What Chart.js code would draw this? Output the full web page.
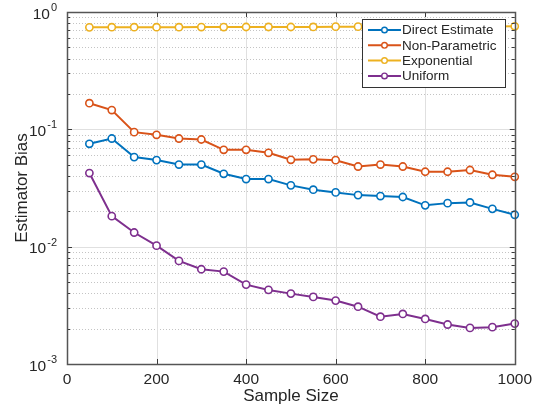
<!DOCTYPE html>
<html>
<head>
<meta charset="utf-8">
<script src="https://cdn.jsdelivr.net/npm/chart.js@4/dist/chart.umd.min.js"></script>
<style>
html, body { margin: 0; padding: 0; background: #fff; }
#wrap { width: 538px; height: 413px; }
</style>
</head>
<body>
<div id="wrap"><canvas id="chart"></canvas></div>
<script>
const sampleSizes = [50, 100, 150, 200, 250, 300, 350, 400, 450, 500, 550, 600, 650, 700, 750, 800, 850, 900, 950, 1000]
const directEstimate = [0.0753, 0.0835, 0.058, 0.0547, 0.0501, 0.0501, 0.0418, 0.0377, 0.0377, 0.0333, 0.0306, 0.029, 0.0275, 0.027, 0.0265, 0.0225, 0.0235, 0.0238, 0.021, 0.0187]
const nonParametric = [0.167, 0.146, 0.0946, 0.0898, 0.0835, 0.0819, 0.0669, 0.0669, 0.0631, 0.055, 0.0555, 0.0546, 0.0482, 0.0501, 0.0482, 0.0435, 0.0435, 0.045, 0.041, 0.0394]
const exponential = [0.74, 0.742, 0.742, 0.742, 0.742, 0.744, 0.744, 0.745, 0.745, 0.745, 0.746, 0.75, 0.75, 0.75, 0.751, 0.752, 0.752, 0.753, 0.754, 0.755]
const uniform = [0.0424, 0.0182, 0.0132, 0.0102, 0.00756, 0.00642, 0.00613, 0.00475, 0.00428, 0.00398, 0.00373, 0.00347, 0.00308, 0.00253, 0.00267, 0.00242, 0.00217, 0.00203, 0.00206, 0.00221]

const seriesNames = ['Direct Estimate', 'Non-Parametric', 'Exponential', 'Uniform']
const seriesColors = ['#0072BD', '#D95319', '#EDB120', '#7E2F8E']
const xTicks = [0, 200, 400, 600, 800, 1000]
const yDecades = [-3, -2, -1, 0]

const FONT = '"Liberation Sans", Arial, Helvetica, sans-serif'
const TEXT = '#262626'

function makeSet(name, values, i) {
    return {
        label: name,
        data: values.map((v, j) => ({x: sampleSizes[j], y: v})),
        borderColor: seriesColors[i],
        backgroundColor: '#ffffff',
        pointBorderColor: seriesColors[i],
        pointBackgroundColor: '#ffffff',
        borderWidth: 2,
        pointRadius: 3.6,
        pointBorderWidth: 1.6,
        pointHoverRadius: 3.6,
        tension: 0,
        clip: false
    }
}

// grid lines drawn under the data, box/ticks/labels/legend on top
const matlabAxes = {
    id: 'matlabAxes',
    beforeDatasetsDraw(chart) {
        const {ctx, chartArea: {left, right, top, bottom}, scales: {x, y}} = chart
        ctx.save()
        ctx.lineWidth = 1
        ctx.strokeStyle = '#c4c4c4'
        ctx.setLineDash([1, 2])
        yDecades.slice(0, -1).forEach(d => {
            for (let m = 2; m <= 9; m++) {
                const py = Math.round(y.getPixelForValue(m * 10 ** d)) + 0.5
                ctx.beginPath(); ctx.moveTo(left, py); ctx.lineTo(right, py); ctx.stroke()
            }
        })
        ctx.setLineDash([])
        ctx.strokeStyle = '#e0e0e0'
        yDecades.forEach(d => {
            const py = Math.round(y.getPixelForValue(10 ** d)) + 0.5
            ctx.beginPath(); ctx.moveTo(left, py); ctx.lineTo(right, py); ctx.stroke()
        })
        xTicks.forEach(v => {
            const px = Math.round(x.getPixelForValue(v)) + 0.5
            ctx.beginPath(); ctx.moveTo(px, top); ctx.lineTo(px, bottom); ctx.stroke()
        })
        ctx.restore()
    },
    afterDatasetsDraw(chart) {
        const {ctx, chartArea: {left, right, top, bottom}, scales: {x, y}} = chart
        ctx.save()
        ctx.strokeStyle = '#3a3a3a'
        ctx.lineWidth = 1

        // tick marks on all four sides
        xTicks.forEach(v => {
            const px = Math.round(x.getPixelForValue(v)) + 0.5
            ctx.beginPath()
            ctx.moveTo(px, bottom); ctx.lineTo(px, bottom - 5)
            ctx.moveTo(px, top); ctx.lineTo(px, top + 5)
            ctx.stroke()
        })
        yDecades.forEach((d, k) => {
            const py = Math.round(y.getPixelForValue(10 ** d)) + 0.5
            ctx.beginPath()
            ctx.moveTo(left, py); ctx.lineTo(left + 5, py)
            ctx.moveTo(right, py); ctx.lineTo(right - 5, py)
            ctx.stroke()
            if (k < yDecades.length - 1) {
                for (let m = 2; m <= 9; m++) {
                    const my = Math.round(y.getPixelForValue(m * 10 ** d)) + 0.5
                    ctx.beginPath()
                    ctx.moveTo(left, my); ctx.lineTo(left + 3, my)
                    ctx.moveTo(right, my); ctx.lineTo(right - 3, my)
                    ctx.stroke()
                }
            }
        })

        // axes box
        ctx.strokeStyle = '#555555'
        ctx.lineWidth = 1.5
        ctx.strokeRect(Math.round(left) + 0.5, Math.round(top) + 0.5, Math.round(right - left), Math.round(bottom - top))

        // y tick labels as 10^n
        ctx.fillStyle = TEXT
        ctx.textBaseline = 'middle'
        yDecades.forEach(d => {
            const py = y.getPixelForValue(10 ** d)
            const exp = String(d)
            ctx.font = '15.5px ' + FONT
            const baseW = ctx.measureText('10').width
            ctx.font = '11px ' + FONT
            const expW = ctx.measureText(exp).width
            const xr = left - 10
            ctx.textAlign = 'left'
            ctx.fillText(exp, xr - expW, py - 4)
            ctx.font = '15.5px ' + FONT
            ctx.fillText('10', xr - expW - baseW - 1, py + 2.5)
        })

        // legend box inside the plot
        const lx = 362, ly = 19, lw = 143, lh = 68
        ctx.fillStyle = '#ffffff'
        ctx.fillRect(lx, ly, lw, lh)
        ctx.strokeStyle = '#333333'
        ctx.lineWidth = 1
        ctx.strokeRect(lx + 0.5, ly + 0.5, lw, lh)
        ctx.font = '13.5px ' + FONT
        ctx.textAlign = 'left'
        ctx.textBaseline = 'middle'
        chart.data.datasets.forEach((ds, i) => {
            const iy = ly + 11 + i * 15.3
            ctx.strokeStyle = ds.borderColor
            ctx.lineWidth = 2
            ctx.beginPath(); ctx.moveTo(lx + 6, iy); ctx.lineTo(lx + 39, iy); ctx.stroke()
            ctx.lineWidth = 1.4
            ctx.fillStyle = '#ffffff'
            ctx.beginPath(); ctx.arc(lx + 22.5, iy, 2.8, 0, Math.PI * 2); ctx.fill(); ctx.stroke()
            ctx.fillStyle = TEXT
            ctx.fillText(ds.label, lx + 40, iy + 0.5)
        })
        ctx.restore()
    }
}

const chart = new Chart(document.querySelector('#chart'), {
    type: 'line',
    data: {
        datasets: [
            makeSet(seriesNames[0], directEstimate, 0),
            makeSet(seriesNames[1], nonParametric, 1),
            makeSet(seriesNames[2], exponential, 2),
            makeSet(seriesNames[3], uniform, 3)
        ]
    },
    options: {
        responsive: true,
        maintainAspectRatio: false,
        animation: false,
        events: [],
        layout: {padding: {top: 12, right: 23, left: 0, bottom: 0}},
        plugins: {legend: {display: false}, tooltip: {enabled: false}},
        scales: {
            x: {
                type: 'linear',
                min: 0,
                max: 1000,
                afterBuildTicks: s => { s.ticks = xTicks.map(v => ({value: v})) },
                afterFit: s => { s.height = 49 },
                grid: {display: false, drawTicks: false},
                border: {display: false},
                ticks: {
                    padding: 6,
                    color: TEXT,
                    maxRotation: 0,
                    font: {family: FONT, size: 15.5},
                    callback: v => String(v)
                },
                title: {
                    display: true,
                    text: 'Sample Size',
                    color: TEXT,
                    font: {family: FONT, size: 17},
                    padding: {top: 0, bottom: 6}
                }
            },
            y: {
                type: 'logarithmic',
                min: 1e-3,
                max: 1,
                afterFit: s => { s.width = 67 },
                grid: {display: false, drawTicks: false},
                border: {display: false},
                ticks: {display: false},
                title: {
                    display: true,
                    text: 'Estimator Bias',
                    color: TEXT,
                    font: {family: FONT, size: 17},
                    padding: {top: 12, bottom: 0}
                }
            }
        }
    },
    plugins: [matlabAxes]
})
</script>
</body>
</html>
